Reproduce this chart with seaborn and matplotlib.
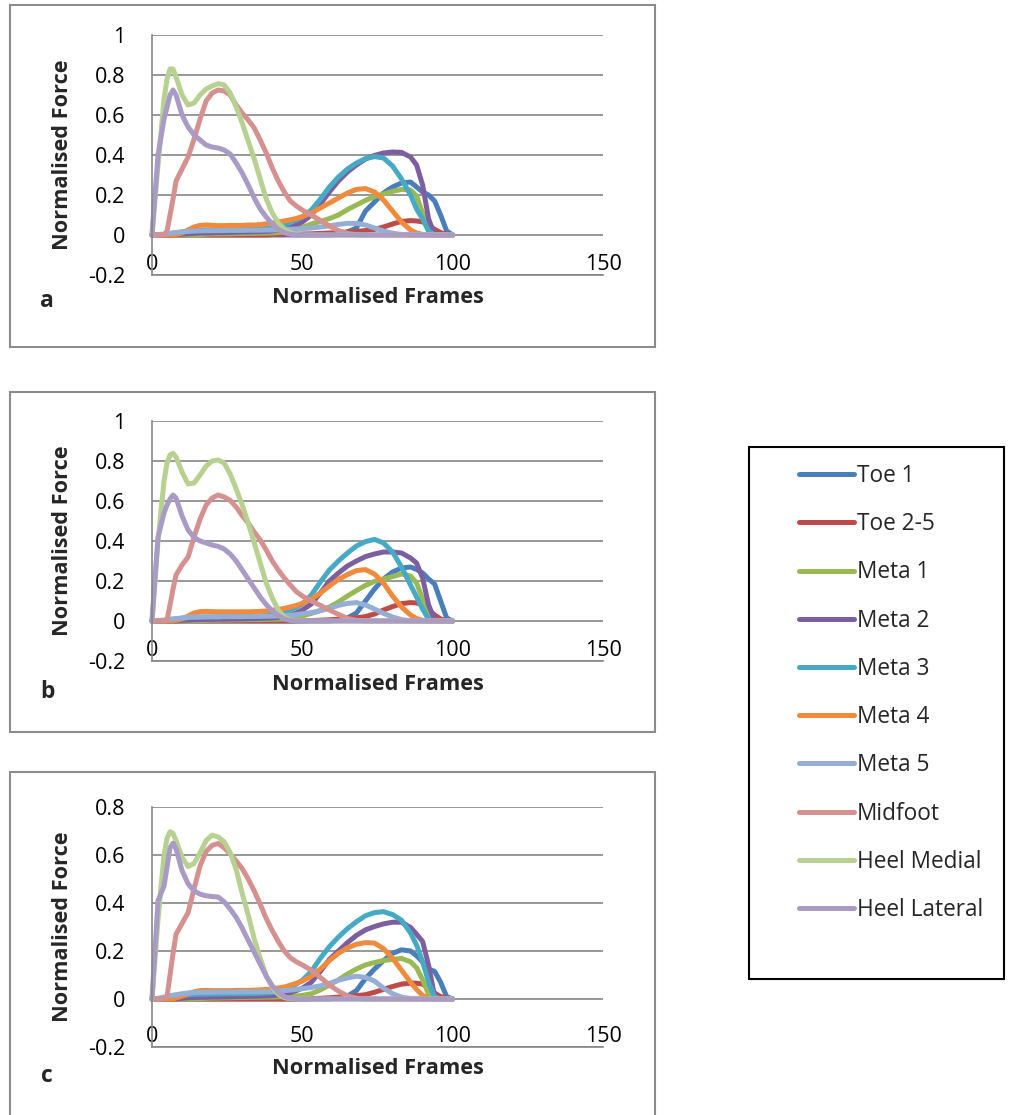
import numpy as np
import pandas as pd
import matplotlib
matplotlib.use("Agg")
import matplotlib.pyplot as plt
from matplotlib.lines import Line2D
from matplotlib.patches import Rectangle
import seaborn as sns

sns.set_style("white")
plt.rcParams["font.family"] = ["Open Sans", "DejaVu Sans"]

# ---------------- data ----------------
SENSORS = ["Toe 1", "Toe 2-5", "Meta 1", "Meta 2", "Meta 3", "Meta 4",
           "Meta 5", "Midfoot", "Heel Medial", "Heel Lateral"]
COLORS = ["#4A7EBB", "#BE4B48", "#98B954", "#7D5FA0", "#46AAC5", "#F08A3C",
          "#94AED6", "#D4918F", "#B7D190", "#A99BC5"]

FRAMES = [0, 2, 4, 5, 6, 7, 8,
          10, 12, 14, 16, 18, 20, 22, 24, 26, 28, 30, 32, 34, 36, 38, 40, 42, 44, 46, 48, 50,
          53, 56, 59, 62, 65, 68, 71, 74, 77, 80, 83, 86,
          88, 90, 92, 94, 96, 98, 100]

# ---- panel a ----
A_TOE1 = [0, 0, 0, 0, 0, 0, 0,
          0, 0, 0, 0, 0, 0, 0, 0, 0, 0, 0, 0, 0, 0, 0, 0, 0, 0, 0, 0, 0,
          0, 0, 0, 0.005, 0.015, 0.035, 0.12, 0.165, 0.21, 0.24, 0.26, 0.265,
          0.24, 0.215, 0.2, 0.17, 0.1, 0.02, 0]
A_TOE25 = [0, 0, 0, 0, 0, 0, 0,
           0, 0, 0, 0, 0, 0, 0, 0, 0, 0, 0, 0, 0, 0, 0, 0.002, 0.003, 0.003, 0.004, 0.004, 0.005,
           0.006, 0.008, 0.01, 0.012, 0.015, 0.018, 0.022, 0.028, 0.04, 0.055, 0.068, 0.072,
           0.07, 0.066, 0.05, 0.028, 0.012, 0.003, 0]
A_META1 = [0, 0, 0, 0, 0, 0, 0,
           0, 0, 0, 0.002, 0.004, 0.005, 0.005, 0.006, 0.006, 0.007, 0.007, 0.008, 0.008, 0.009, 0.009,
           0.01, 0.012, 0.015, 0.02, 0.028, 0.038,
           0.055, 0.068, 0.082, 0.1, 0.127, 0.15, 0.173, 0.192, 0.205, 0.218, 0.228, 0.225,
           0.195, 0.11, 0.02, 0, 0, 0, 0]
A_META2 = [0, 0, 0, 0, 0, 0, 0.002,
           0.004, 0.006, 0.008, 0.01, 0.01, 0.011, 0.012, 0.012, 0.013, 0.014, 0.015, 0.015, 0.016,
           0.017, 0.018, 0.02, 0.025, 0.03, 0.04, 0.05, 0.065,
           0.1, 0.155, 0.215, 0.27, 0.315, 0.35, 0.38, 0.398, 0.41, 0.415, 0.413, 0.39,
           0.35, 0.25, 0.08, 0, 0, 0, 0]
A_META3 = [0, 0, 0.002, 0.004, 0.006, 0.008, 0.01,
           0.015, 0.02, 0.022, 0.024, 0.025, 0.025, 0.025, 0.025, 0.026, 0.027, 0.028, 0.029, 0.03,
           0.031, 0.033, 0.036, 0.042, 0.052, 0.062, 0.075, 0.09,
           0.125, 0.18, 0.24, 0.29, 0.33, 0.36, 0.382, 0.392, 0.385, 0.345, 0.28, 0.2,
           0.13, 0.08, 0.02, 0, 0, 0, 0]
A_META4 = [0, 0, 0, 0, 0, 0, 0.003,
           0.01, 0.025, 0.04, 0.048, 0.05, 0.048, 0.047, 0.047, 0.048, 0.048, 0.048, 0.05, 0.05,
           0.052, 0.056, 0.06, 0.065, 0.07, 0.076, 0.083, 0.092,
           0.11, 0.135, 0.16, 0.185, 0.21, 0.228, 0.232, 0.215, 0.175, 0.12, 0.065, 0.025,
           0.01, 0.003, 0, 0, 0, 0, 0]
A_META5 = [0, 0.002, 0.005, 0.007, 0.009, 0.011, 0.013,
           0.016, 0.018, 0.02, 0.021, 0.021, 0.022, 0.022, 0.022, 0.023, 0.023, 0.023, 0.024, 0.024,
           0.024, 0.025, 0.025, 0.026, 0.028, 0.029, 0.03, 0.032,
           0.035, 0.04, 0.046, 0.053, 0.058, 0.058, 0.05, 0.035, 0.02, 0.009, 0.003, 0,
           0, 0, 0, 0, 0, 0, 0]
A_MID = [0, 0, 0, 0.02, 0.10, 0.18, 0.27,
         0.33, 0.39, 0.48, 0.58, 0.67, 0.71, 0.725, 0.72, 0.70, 0.65, 0.61, 0.575, 0.535,
         0.475, 0.41, 0.335, 0.27, 0.215, 0.17, 0.145, 0.125,
         0.10, 0.073, 0.045, 0.022, 0.008, 0.002, 0, 0, 0, 0, 0, 0,
         0, 0, 0, 0, 0, 0, 0]
A_HMED = [0, 0.35, 0.68, 0.78, 0.83, 0.83, 0.79,
          0.70, 0.65, 0.66, 0.70, 0.73, 0.745, 0.757, 0.75, 0.71, 0.64, 0.56, 0.47, 0.38,
          0.28, 0.18, 0.11, 0.06, 0.03, 0.012, 0.004, 0,
          0, 0, 0, 0, 0, 0, 0, 0, 0, 0, 0, 0,
          0, 0, 0, 0, 0, 0, 0]
A_HLAT = [0, 0.40, 0.58, 0.64, 0.70, 0.725, 0.70,
          0.60, 0.54, 0.50, 0.475, 0.45, 0.44, 0.435, 0.425, 0.405, 0.36, 0.31, 0.25, 0.185,
          0.13, 0.09, 0.055, 0.028, 0.012, 0.004, 0, 0,
          0, 0, 0, 0, 0, 0, 0, 0, 0, 0, 0, 0,
          0, 0, 0, 0, 0, 0, 0]

# ---- panel b ----
B_TOE1 = [0, 0, 0, 0, 0, 0, 0,
          0, 0, 0, 0, 0, 0, 0, 0, 0, 0, 0, 0, 0, 0, 0, 0, 0, 0, 0, 0, 0,
          0, 0, 0, 0.005, 0.015, 0.04, 0.1, 0.16, 0.21, 0.245, 0.265, 0.27,
          0.258, 0.24, 0.21, 0.185, 0.1, 0.015, 0]
B_TOE25 = [0, 0, 0, 0, 0, 0, 0,
           0, 0, 0, 0, 0, 0, 0, 0, 0, 0, 0, 0, 0, 0, 0, 0, 0, 0, 0, 0, 0,
           0.002, 0.004, 0.006, 0.009, 0.012, 0.016, 0.022, 0.035, 0.055, 0.072, 0.087, 0.092,
           0.09, 0.082, 0.058, 0.03, 0.01, 0.002, 0]
B_META1 = [0, 0, 0, 0, 0, 0, 0,
           0, 0, 0, 0.002, 0.003, 0.004, 0.004, 0.005, 0.005, 0.006, 0.006, 0.007, 0.007, 0.007,
           0.008, 0.008, 0.009, 0.01, 0.013, 0.018, 0.025,
           0.038, 0.052, 0.07, 0.095, 0.125, 0.152, 0.178, 0.198, 0.21, 0.222, 0.235, 0.225,
           0.19, 0.11, 0.015, 0, 0, 0, 0]
B_META2 = [0, 0, 0, 0, 0, 0, 0,
           0.003, 0.005, 0.006, 0.007, 0.008, 0.008, 0.009, 0.009, 0.01, 0.01, 0.011, 0.012, 0.012,
           0.013, 0.014, 0.015, 0.018, 0.022, 0.03, 0.04, 0.055,
           0.085, 0.14, 0.2, 0.24, 0.275, 0.3, 0.322, 0.335, 0.345, 0.345, 0.34, 0.315,
           0.29, 0.215, 0.08, 0.005, 0, 0, 0]
B_META3 = [0, 0, 0.002, 0.004, 0.006, 0.008, 0.01,
           0.014, 0.017, 0.019, 0.02, 0.02, 0.021, 0.021, 0.022, 0.022, 0.023, 0.023, 0.024, 0.024,
           0.025, 0.028, 0.032, 0.038, 0.046, 0.055, 0.068, 0.085,
           0.13, 0.195, 0.255, 0.3, 0.34, 0.375, 0.397, 0.408, 0.39, 0.345, 0.27, 0.18,
           0.12, 0.06, 0.008, 0, 0, 0, 0]
B_META4 = [0, 0, 0, 0, 0, 0, 0.003,
           0.01, 0.025, 0.04, 0.047, 0.048, 0.047, 0.046, 0.046, 0.046, 0.046, 0.046, 0.046, 0.047,
           0.048, 0.05, 0.054, 0.058, 0.063, 0.07, 0.078, 0.088,
           0.11, 0.14, 0.175, 0.208, 0.232, 0.252, 0.257, 0.235, 0.19, 0.125, 0.07, 0.03,
           0.012, 0.003, 0, 0, 0, 0, 0]
B_META5 = [0, 0.002, 0.005, 0.007, 0.009, 0.011, 0.012,
           0.015, 0.018, 0.02, 0.02, 0.021, 0.021, 0.021, 0.022, 0.022, 0.022, 0.022, 0.023, 0.023,
           0.023, 0.024, 0.024, 0.025, 0.027, 0.029, 0.032, 0.036,
           0.042, 0.052, 0.064, 0.078, 0.088, 0.092, 0.08, 0.06, 0.038, 0.02, 0.007, 0,
           0, 0, 0, 0, 0, 0, 0]
B_MID = [0, 0, 0, 0.005, 0.08, 0.16, 0.23,
         0.28, 0.32, 0.42, 0.51, 0.58, 0.615, 0.63, 0.62, 0.603, 0.57, 0.527, 0.49, 0.445,
         0.405, 0.355, 0.30, 0.255, 0.215, 0.18, 0.147, 0.125,
         0.10, 0.078, 0.055, 0.033, 0.013, 0.003, 0, 0, 0, 0, 0, 0,
         0, 0, 0, 0, 0, 0, 0]
B_HMED = [0, 0.40, 0.70, 0.79, 0.83, 0.838, 0.82,
          0.745, 0.685, 0.69, 0.73, 0.775, 0.80, 0.805, 0.79, 0.735, 0.66, 0.58, 0.49, 0.39,
          0.29, 0.19, 0.115, 0.055, 0.02, 0.006, 0.001, 0,
          0, 0, 0, 0, 0, 0, 0, 0, 0, 0, 0, 0,
          0, 0, 0, 0, 0, 0, 0]
B_HLAT = [0, 0.42, 0.54, 0.58, 0.61, 0.63, 0.615,
          0.525, 0.455, 0.418, 0.40, 0.39, 0.38, 0.373, 0.36, 0.335, 0.30, 0.255, 0.21, 0.165,
          0.12, 0.082, 0.05, 0.028, 0.01, 0.003, 0, 0,
          0, 0, 0, 0, 0, 0, 0, 0, 0, 0, 0, 0,
          0, 0, 0, 0, 0, 0, 0]

# ---- panel c ----
C_TOE1 = [0, 0, 0, 0, 0, 0, 0,
          0, 0, 0, 0, 0, 0, 0, 0, 0, 0, 0, 0, 0, 0, 0, 0, 0, 0, 0, 0, 0,
          0, 0, 0, 0.004, 0.012, 0.035, 0.085, 0.125, 0.16, 0.19, 0.205, 0.2,
          0.18, 0.155, 0.125, 0.115, 0.07, 0.01, 0]
C_TOE25 = [0, 0, 0, 0, 0, 0, 0,
           0, 0, 0, 0, 0, 0, 0, 0, 0, 0, 0, 0, 0, 0, 0, 0, 0, 0, 0, 0, 0,
           0.002, 0.003, 0.005, 0.008, 0.011, 0.014, 0.018, 0.028, 0.04, 0.052, 0.062, 0.066,
           0.066, 0.062, 0.045, 0.025, 0.01, 0.002, 0]
C_META1 = [0, 0, 0, 0, 0, 0, 0,
           0, 0, 0, 0.002, 0.003, 0.004, 0.004, 0.005, 0.005, 0.006, 0.006, 0.007, 0.007, 0.007,
           0.008, 0.008, 0.009, 0.01, 0.011, 0.013, 0.015,
           0.022, 0.038, 0.058, 0.08, 0.104, 0.125, 0.142, 0.152, 0.16, 0.165, 0.169, 0.155,
           0.13, 0.08, 0.02, 0, 0, 0, 0]
C_META2 = [0, 0, 0, 0, 0, 0, 0,
           0.003, 0.005, 0.006, 0.007, 0.007, 0.008, 0.008, 0.009, 0.009, 0.01, 0.01, 0.011, 0.011,
           0.012, 0.013, 0.014, 0.017, 0.021, 0.027, 0.035, 0.045,
           0.07, 0.115, 0.165, 0.2, 0.235, 0.265, 0.288, 0.302, 0.313, 0.32, 0.32, 0.298,
           0.27, 0.24, 0.14, 0.01, 0, 0, 0]
C_META3 = [0, 0, 0.002, 0.004, 0.006, 0.008, 0.01,
           0.014, 0.017, 0.019, 0.02, 0.02, 0.021, 0.021, 0.021, 0.022, 0.022, 0.022, 0.023, 0.023,
           0.024, 0.025, 0.026, 0.032, 0.04, 0.05, 0.062, 0.078,
           0.115, 0.17, 0.218, 0.258, 0.293, 0.322, 0.347, 0.36, 0.364, 0.352, 0.328, 0.275,
           0.225, 0.155, 0.07, 0.01, 0, 0, 0]
C_META4 = [0, 0, 0, 0, 0, 0, 0.004,
           0.012, 0.022, 0.03, 0.035, 0.036, 0.035, 0.035, 0.035, 0.035, 0.036, 0.036, 0.036, 0.037,
           0.038, 0.04, 0.042, 0.046, 0.05, 0.057, 0.066, 0.075,
           0.095, 0.125, 0.16, 0.19, 0.213, 0.228, 0.235, 0.233, 0.21, 0.17, 0.12, 0.07,
           0.04, 0.015, 0.003, 0, 0, 0, 0]
C_META5 = [0, 0.003, 0.008, 0.011, 0.014, 0.016, 0.018,
           0.022, 0.025, 0.027, 0.028, 0.028, 0.028, 0.029, 0.029, 0.029, 0.029, 0.03, 0.03, 0.03,
           0.03, 0.031, 0.031, 0.033, 0.035, 0.037, 0.04, 0.043,
           0.048, 0.055, 0.065, 0.078, 0.088, 0.095, 0.09, 0.075, 0.045, 0.022, 0.008, 0.002,
           0, 0, 0, 0, 0, 0, 0]
C_MID = [0, 0, 0, 0.01, 0.1, 0.19, 0.27,
         0.315, 0.36, 0.46, 0.555, 0.615, 0.64, 0.648, 0.63, 0.605, 0.575, 0.543, 0.5, 0.45,
         0.395, 0.335, 0.285, 0.24, 0.2, 0.172, 0.155, 0.142,
         0.12, 0.09, 0.058, 0.033, 0.013, 0.003, 0, 0, 0, 0, 0, 0,
         0, 0, 0, 0, 0, 0, 0]
C_HMED = [0, 0.33, 0.6, 0.67, 0.697, 0.69, 0.66,
          0.59, 0.552, 0.565, 0.61, 0.66, 0.683, 0.675, 0.655, 0.61, 0.54, 0.44, 0.35, 0.25,
          0.17, 0.096, 0.05, 0.02, 0.006, 0.001, 0, 0,
          0, 0, 0, 0, 0, 0, 0, 0, 0, 0, 0, 0,
          0, 0, 0, 0, 0, 0, 0]
C_HLAT = [0, 0.41, 0.47, 0.55, 0.63, 0.649, 0.625,
          0.535, 0.48, 0.45, 0.437, 0.43, 0.427, 0.425, 0.405, 0.375, 0.34, 0.295, 0.245, 0.195,
          0.145, 0.095, 0.055, 0.028, 0.01, 0.003, 0, 0,
          0, 0, 0, 0, 0, 0, 0, 0, 0, 0, 0, 0,
          0, 0, 0, 0, 0, 0, 0]

PANEL_LETTERS = ["a", "b", "c"]
X_TICKS = [0, 50, 100, 150]
Y_TICKS_AB = [-0.2, 0, 0.2, 0.4, 0.6, 0.8, 1]
Y_LABELS_AB = ["-0.2", "0", "0.2", "0.4", "0.6", "0.8", "1"]
Y_TICKS_C = [-0.2, 0, 0.2, 0.4, 0.6, 0.8]
Y_LABELS_C = ["-0.2", "0", "0.2", "0.4", "0.6", "0.8"]
X_TITLE = "Normalised Frames"
Y_TITLE = "Normalised Force"

PANELS = [
    [A_TOE1, A_TOE25, A_META1, A_META2, A_META3, A_META4, A_META5, A_MID, A_HMED, A_HLAT],
    [B_TOE1, B_TOE25, B_META1, B_META2, B_META3, B_META4, B_META5, B_MID, B_HMED, B_HLAT],
    [C_TOE1, C_TOE25, C_META1, C_META2, C_META3, C_META4, C_META5, C_MID, C_HMED, C_HLAT],
]


def long_frame(series_list):
    rows = []
    for name, vals in zip(SENSORS, series_list):
        assert len(vals) == len(FRAMES), (name, len(vals))
        for f, v in zip(FRAMES, vals):
            rows.append((name, f, v))
    return pd.DataFrame(rows, columns=["Sensor", "Frame", "Force"])


# ---------------- layout (figure pixels) ----------------
W, H = 1016, 1115
fig = plt.figure(figsize=(W / 100, H / 100), dpi=100)


def fx(px):
    return px / W


def fy(py):
    return 1 - py / H


GRID_C = "#868686"
AX_LEFT, AX_RIGHT = 152, 603
LINE_W = 3.6
panel_cfg = [
    dict(top=35, bottom=275, ylim=(-0.2, 1.0), ticks=Y_TICKS_AB, labels=Y_LABELS_AB,
         box=(10, 5, 655, 347), xlab_y=298, let_y=301),
    dict(top=421, bottom=661, ylim=(-0.2, 1.0), ticks=Y_TICKS_AB, labels=Y_LABELS_AB,
         box=(10, 392, 655, 732), xlab_y=684, let_y=692),
    dict(top=807, bottom=1047, ylim=(-0.2, 0.8), ticks=Y_TICKS_C, labels=Y_LABELS_C,
         box=(10, 772, 655, 1125), xlab_y=1069, let_y=1076),
]

for letter, series_list, cfg in zip(PANEL_LETTERS, PANELS, panel_cfg):
    x0, y0, x1, y1 = cfg["box"]
    fig.patches.append(Rectangle((fx(x0), fy(y1)), fx(x1) - fx(x0), fy(y0) - fy(y1),
                                 transform=fig.transFigure, fill=False,
                                 edgecolor="#8c8c8c", linewidth=1.5, zorder=0))
    ax = fig.add_axes([fx(AX_LEFT), fy(cfg["bottom"]), fx(AX_RIGHT) - fx(AX_LEFT),
                       (cfg["bottom"] - cfg["top"]) / H])
    df = long_frame(series_list)
    sns.lineplot(data=df, x="Frame", y="Force", hue="Sensor", hue_order=SENSORS,
                 palette=COLORS, sort=False, estimator=None, linewidth=LINE_W,
                 legend=False, ax=ax)
    for ln in ax.lines:
        ln.set_solid_capstyle("round")
        ln.set_solid_joinstyle("round")
        ln.set_clip_on(False)
    ax.set_xlim(0, 150)
    ax.set_ylim(*cfg["ylim"])
    ax.set_xticks(X_TICKS)
    ax.set_xticklabels([str(t) for t in X_TICKS])
    ax.set_yticks(cfg["ticks"])
    ax.set_yticklabels(cfg["labels"])
    ax.set_xlabel("")
    ax.set_ylabel("")
    ax.yaxis.grid(True, color=GRID_C, linewidth=1.2)
    ax.xaxis.grid(False)
    ax.set_axisbelow(True)
    for s in ["top", "right"]:
        ax.spines[s].set_visible(False)
    for s in ["left", "bottom"]:
        ax.spines[s].set_color(GRID_C)
        ax.spines[s].set_linewidth(1.2)
    ax.tick_params(axis="both", length=0, labelsize=15.5, labelcolor="black")
    ax.tick_params(axis="y", pad=19)
    ax.tick_params(axis="x", pad=-15)
    ax.patch.set_alpha(0)

    fig.text(fx(63), fy((cfg["top"] + cfg["bottom"]) / 2), Y_TITLE, rotation=90,
             ha="center", va="center", fontsize=15.6, fontweight="bold")
    fig.text(fx((AX_LEFT + AX_RIGHT) / 2), fy(cfg["xlab_y"]), X_TITLE,
             ha="center", va="center", fontsize=15.7, fontweight="bold")
    fig.text(fx(47), fy(cfg["let_y"]), letter, ha="center", va="center",
             fontsize=16.5, fontweight="bold")

# ---------------- legend ----------------
fig.patches.append(Rectangle((fx(749), fy(979)), fx(1004) - fx(749), fy(447) - fy(979),
                             transform=fig.transFigure, fill=False,
                             edgecolor="black", linewidth=1.5, zorder=0))
handles = [Line2D([0], [0], color=c, lw=LINE_W, solid_capstyle="round") for c in COLORS]
leg = fig.legend(handles, SENSORS, loc="upper left",
                 bbox_to_anchor=(fx(799), fy(464)), frameon=False,
                 fontsize=16.3, handlelength=2.45, handletextpad=0.12,
                 labelspacing=1.07, borderpad=0, borderaxespad=0)

fig.savefig("out.png", dpi=100)
